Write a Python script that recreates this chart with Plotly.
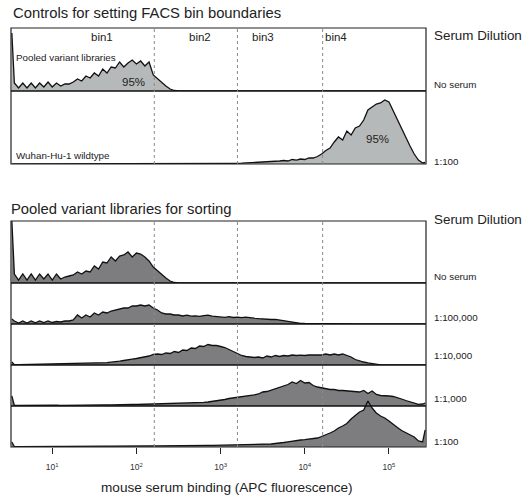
import math
import plotly.graph_objects as go

# ---------------- data ----------------
LOG_BINS = [0.52,
            0.55, 0.60, 0.65, 0.70, 0.75, 0.80, 0.85, 0.90, 0.95,
            1.00, 1.05, 1.10, 1.15, 1.20, 1.25, 1.30, 1.35, 1.40, 1.45,
            1.50, 1.55, 1.60, 1.65, 1.70, 1.75, 1.80, 1.85, 1.90, 1.95,
            2.00, 2.05, 2.10, 2.15, 2.20, 2.25, 2.30, 2.35, 2.40, 2.45,
            2.50, 2.55, 2.60, 2.65, 2.70, 2.75, 2.80, 2.85, 2.90, 2.95,
            3.00, 3.05, 3.10, 3.15, 3.20, 3.25, 3.30, 3.35, 3.40, 3.45,
            3.50, 3.55, 3.60, 3.65, 3.70, 3.75, 3.80, 3.85, 3.90, 3.95,
            4.00, 4.05, 4.10, 4.15, 4.20, 4.25, 4.30, 4.35, 4.40, 4.45,
            4.50, 4.55, 4.60, 4.65, 4.70, 4.75, 4.80, 4.85, 4.90, 4.95,
            5.00, 5.05, 5.10, 5.15, 5.20, 5.25, 5.30, 5.35, 5.40,
            5.43]

CTRL_POOLED = [58,
               8, 3, 8, 3, 8, 3, 8, 4, 9,
               4, 8, 5, 7, 7, 9, 12, 10, 15, 13,
               18, 15, 22, 18, 24, 23, 29, 24, 28, 31,
               27, 30, 25, 29, 16, 12, 8, 5, 2, 0.5,
               0, 0, 0, 0, 0, 0, 0, 0, 0, 0,
               0, 0, 0, 0, 0, 0, 0, 0, 0, 0,
               0, 0, 0, 0, 0, 0, 0, 0, 0, 0,
               0, 0, 0, 0, 0, 0, 0, 0, 0, 0,
               0, 0, 0, 0, 0, 0, 0, 0, 0, 0,
               0, 0, 0, 0, 0, 0, 0, 0, 0,
               0]

CTRL_WUHAN = [0,
              0, 0, 0, 0, 0, 0, 0, 0, 0,
              0, 0, 0, 0, 0, 0, 0, 0, 0, 0,
              0, 0, 0, 0, 0, 0, 0, 0, 0, 0,
              0, 0, 0, 0, 0, 0, 0, 0, 0, 0,
              0, 0, 0, 0, 0, 0, 0, 0, 0, 0.1,
              0.2, 0.3, 0.5, 0.5, 0.7, 0.8, 1.0, 1.2, 1.3, 1.5,
              1.8, 2.0, 2.5, 2.2, 3.0, 3.5, 3.0, 4.5, 3.8, 5.0,
              4.5, 6.0, 6.0, 7.5, 10, 13.5, 16, 22, 27, 24,
              33, 29, 36, 38, 44, 54, 57, 60, 61, 64,
              62, 53, 44, 35, 26, 18, 10, 4, 1,
              1.5]

DIL_NONE = [62,
            9, 3, 9, 3, 9, 3, 9, 4, 9,
            3, 9, 4, 6, 7, 8, 11, 9, 12, 11,
            17, 14, 21, 20, 26, 22, 27, 28, 31, 26,
            30, 29, 26, 22, 16, 12, 8, 5, 2, 0.5,
            0, 0, 0, 0, 0, 0, 0, 0, 0, 0,
            0, 0, 0, 0, 0, 0, 0, 0, 0, 0,
            0, 0, 0, 0, 0, 0, 0, 0, 0, 0,
            0, 0, 0, 0, 0, 0, 0, 0, 0, 0,
            0, 0, 0, 0, 0, 0, 0, 0, 0, 0,
            0, 0, 0, 0, 0, 0, 0, 0, 0,
            0]

DIL_100000 = [5,
              3, 1, 3, 1, 3, 1.2, 3, 1.5, 3,
              1.5, 2.5, 2, 3, 3, 4, 9, 6, 9, 7,
              11, 9, 12, 11, 13, 14, 15, 16, 16, 18,
              18, 19, 18, 19, 16, 14, 11, 10, 10, 9,
              9, 8, 8.8, 7.8, 8.2, 7.6, 8.4, 8.8, 7.8, 7.6,
              7.2, 6.6, 7.3, 6.5, 6.9, 6.3, 6.8, 6.0, 5.8, 5.4,
              5.0, 5.2, 4.5, 4.7, 4.0, 3.5, 2.5, 1.5, 1.0, 0.7,
              0.5, 0.4, 0.3, 0.2, 0.1, 0, 0, 0, 0, 0,
              0, 0, 0, 0, 0, 0, 0, 0, 0, 0,
              0, 0, 0, 0, 0, 0, 0, 0, 0,
              0]

DIL_10000 = [3,
             0.4, 0.3, 0.4, 0.3, 0.4, 0.4, 0.5, 0.4, 0.5,
             0.5, 0.6, 0.6, 0.8, 0.9, 1.2, 1.2, 1.5, 1.4, 1.7,
             1.8, 1.8, 2.0, 2.3, 2.8, 3.0, 3.8, 4.5, 5.5, 5.8,
             6.5, 7.2, 8.0, 9.0, 10.5, 11, 10.5, 12, 11.5, 13.5,
             12.5, 15, 14.5, 17, 16.5, 19, 18.5, 20.5, 19.5, 19.5,
             18.5, 17.5, 15.5, 13.5, 11.5, 9.5, 8.5, 8.0, 7.5, 8.0,
             7.0, 9.0, 8.0, 9.5, 8.5, 9.5, 9.0, 10, 9.5, 9.8,
             9.5, 10, 10, 10.5, 10, 11, 10, 11, 10, 11,
             9.5, 8.0, 5.5, 4.0, 3.0, 2.2, 1.5, 0.6, 0.2, 0,
             0, 0, 0, 0, 0, 0, 0, 0, 0,
             0]

DIL_1000 = [10,
            0.6, 0.5, 0.6, 0.5, 0.6, 0.6, 0.7, 0.6, 0.7,
            0.7, 0.8, 0.7, 0.8, 0.8, 0.9, 0.8, 0.9, 1.0, 0.9,
            1.0, 1.1, 1.0, 1.2, 1.1, 1.3, 1.2, 1.4, 1.3, 1.5,
            1.5, 1.6, 1.5, 1.7, 1.8, 1.8, 2.0, 2.0, 2.2, 2.2,
            2.4, 2.5, 2.8, 2.8, 3.2, 3.3, 3.6, 4.0, 4.5, 5.0,
            6.0, 6.5, 7.5, 8.0, 8.5, 9.5, 10, 10.5, 11.2, 12,
            14, 14.5, 16, 17, 18.5, 20.5, 21.5, 24, 22.5, 25.5,
            23, 23.5, 20.5, 19, 18, 17.5, 16.5, 16.5, 15.5, 15.5,
            15, 14.5, 14.5, 14, 15.5, 12.5, 15, 11.5, 10.5, 10.5,
            10, 9.5, 8.5, 7.0, 5.5, 4.0, 2.5, 1.7, 2.0,
            3.0]

DIL_100 = [5,
           0.5, 0.4, 0.5, 0.4, 0.5, 0.5, 0.5, 0.6, 0.5,
           0.6, 0.6, 0.7, 0.6, 0.7, 0.7, 0.8, 0.7, 0.8, 0.8,
           0.8, 0.9, 0.8, 0.9, 0.9, 1.0, 0.9, 1.0, 1.0, 1.0,
           1.0, 1.1, 1.0, 1.1, 1.2, 1.1, 1.2, 1.2, 1.3, 1.2,
           1.3, 1.3, 1.4, 1.4, 1.5, 1.5, 1.5, 1.6, 1.6, 1.7,
           1.7, 1.8, 1.8, 1.9, 1.9, 2.0, 2.0, 2.1, 2.2, 2.2,
           2.3, 2.6, 3.0, 3.5, 3.8, 4.5, 5.2, 6.0, 6.3, 7.0,
           7.3, 8.0, 8.2, 9.0, 10.5, 12, 14, 16, 19, 21,
           23.5, 28, 32, 35, 37, 46, 39, 34, 31, 29,
           26, 22.5, 19.5, 16.5, 14.5, 12, 10, 6, 5,
           17]

BIN_EDGES = [163, 1585, 16300]
BIN_LABELS = ["bin1", "bin2", "bin3", "bin4"]
TICK_VALUES = [1e1, 1e2, 1e3, 1e4, 1e5]
TICK_TEXT = ["10<sup>1</sup>", "10<sup>2</sup>", "10<sup>3</sup>", "10<sup>4</sup>", "10<sup>5</sup>"]
CTRL_LABELS = ["No serum", "1:100"]
SORT_LABELS = ["No serum", "1:100,000", "1:10,000", "1:1,000", "1:100"]

for s in [CTRL_POOLED, CTRL_WUHAN, DIL_NONE, DIL_100000, DIL_10000, DIL_1000, DIL_100]:
    assert len(s) == len(LOG_BINS)

FLUOR = [10 ** b for b in LOG_BINS]

# ---------------- layout geometry (pixels) ----------------
W, H = 525, 497
L, R, T, B = 11, 426, 28, 447
XMIN, XMAX = 0.51, 5.44
FONT = "Liberation Sans, Arial, sans-serif"


def px(x):
    return (x - L) / (R - L)


def py(y):
    return (B - y) / (B - T)


def lx(v):
    return (math.log10(v) - XMIN) / (XMAX - XMIN)


# rows: (series, base_px, top_px, fill)
LIGHT = "#b6b9b9"
DARK = "#7d7d80"
rows = [
    (CTRL_POOLED, 91, 28, LIGHT),
    (CTRL_WUHAN, 164, 91, LIGHT),
    (DIL_NONE, 283, 221, DARK),
    (DIL_100000, 324, 283, DARK),
    (DIL_10000, 365, 324, DARK),
    (DIL_1000, 406, 365, DARK),
    (DIL_100, 447, 395, DARK),
]

fig = go.Figure()
layout_axes = {}
for i, (vals, base, top, fill) in enumerate(rows):
    yname = "y" if i == 0 else f"y{i+1}"
    ykey = "yaxis" if i == 0 else f"yaxis{i+1}"
    fig.add_trace(go.Scatter(
        x=FLUOR, y=vals, xaxis="x", yaxis=yname, mode="lines",
        fill="tozeroy", fillcolor=fill,
        line=dict(color="#111111", width=1.3), showlegend=False,
        hoverinfo="skip"))
    layout_axes[ykey] = dict(domain=[py(base), py(top)], range=[0, base - top],
                             visible=False, fixedrange=True, anchor="x")

minor_vals = [m * 10 ** k for k in range(0, 6) for m in range(2, 10)
              if XMIN < math.log10(m * 10 ** k) < XMAX]

fig.update_layout(
    width=W, height=H,
    margin=dict(l=L, r=W - R, t=T, b=H - B),
    paper_bgcolor="white", plot_bgcolor="rgba(0,0,0,0)",
    font=dict(family=FONT, color="#222"),
    xaxis=dict(type="log", range=[XMIN, XMAX], domain=[0, 1], anchor="y7",
               tickvals=TICK_VALUES, ticktext=TICK_TEXT, ticks="outside",
               ticklen=6, tickcolor="#222", showgrid=False, zeroline=False,
               showline=False, tickfont=dict(size=8.5, color="#333"),
               ticklabelstandoff=6),
    xaxis2=dict(type="log", range=[XMIN, XMAX], overlaying="x", anchor="y7",
                tickvals=minor_vals, ticks="outside", ticklen=3,
                tickcolor="#222", showticklabels=False, showgrid=False,
                zeroline=False, showline=False),
    **layout_axes,
)

shapes = []
# panel frames
for top, bot in [(28, 164), (221, 447)]:
    shapes.append(dict(type="rect", xref="paper", yref="paper",
                       x0=0, x1=1, y0=py(bot), y1=py(top),
                       line=dict(color="#222", width=1.2)))
# row separators
for yb in [91, 283, 324, 365, 406]:
    shapes.append(dict(type="line", xref="paper", yref="paper",
                       x0=0, x1=1, y0=py(yb), y1=py(yb),
                       line=dict(color="#111", width=1.3)))
# bin boundaries
for v in BIN_EDGES:
    for top, bot in [(28, 164), (221, 447)]:
        shapes.append(dict(type="line", xref="paper", yref="paper",
                           x0=lx(v), x1=lx(v), y0=py(bot), y1=py(top),
                           line=dict(color="#8a8a8a", width=1, dash="3px,3px")))
fig.update_layout(shapes=shapes)

ann = []


def text(t, x, y, size, xanchor="left", color="#222"):
    ann.append(dict(text=t, x=px(x), y=py(y), xref="paper", yref="paper",
                    xanchor=xanchor, yanchor="middle", showarrow=False,
                    font=dict(size=size, color=color, family=FONT)))


text("Controls for setting FACS bin boundaries", 11, 13, 14.8)
text("Pooled variant libraries for sorting", 9, 209, 14.8)
text("Serum Dilution", 432, 36, 13.4)
text("Serum Dilution", 432, 219, 13.4)
for lab, y in zip(CTRL_LABELS, [84, 161]):
    text(lab, 432, y, 9.8)
for lab, y in zip(SORT_LABELS, [276, 317, 355, 398, 441]):
    text(lab, 432, y, 9.8)
for lab, x in zip(BIN_LABELS, [102, 200, 263, 336]):
    text(lab, x, 37, 11.5, xanchor="center")
text("Pooled variant libraries", 14, 57, 9.8)
text("Wuhan-Hu-1 wildtype", 14, 155, 9.8)
text("95%", 133, 82, 11.5, xanchor="center")
text("95%", 377, 139, 11.5, xanchor="center")
text("mouse serum binding (APC fluorescence)", 227, 487, 13.6, xanchor="center")
fig.update_layout(annotations=ann)

fig.write_html("out.html")
